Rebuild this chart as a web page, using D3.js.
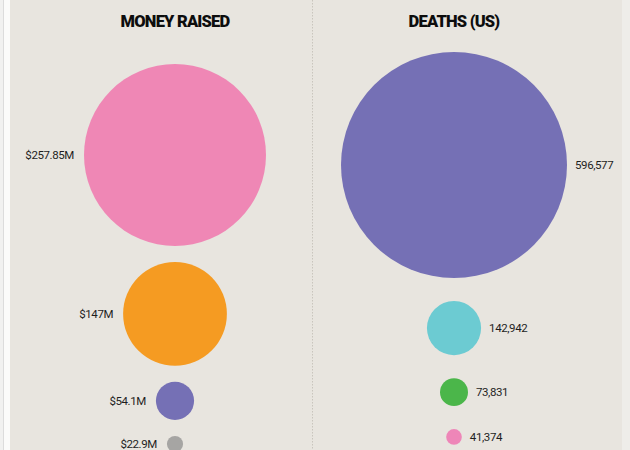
<!DOCTYPE html>
<html>
<head>
<meta charset="utf-8">
<script src="https://cdn.jsdelivr.net/npm/d3@7"></script>
<style>
  html, body { margin: 0; padding: 0; background: #f4f3f0; }
  svg { display: block; }
</style>
</head>
<body>
<svg id="chart" width="630" height="450"></svg>
<script>
// ---- data ----
const panelTitles = ["MONEY RAISED", "DEATHS (US)"];
const moneyLabels = ["$257.85M", "$147M", "$54.1M", "$22.9M"];
const moneyValues = [257.85, 147, 54.1, 22.9];
const moneyColors = ["#ef87b5", "#f59b22", "#7570b5", "#a6a5a3"];
const deathLabels = ["596,577", "142,942", "73,831", "41,374"];
const deathValues = [596577, 142942, 73831, 41374];
const deathColors = ["#7570b5", "#6ccbd2", "#4bb64a", "#ee86b8"];

const W = 630, H = 450;
const svg = d3.select("#chart");

// page frame
svg.append("rect").attr("x", 0).attr("y", 0).attr("width", W).attr("height", H).attr("fill", "#f1f1f0");
svg.append("rect").attr("x", 3).attr("y", 0).attr("width", 1).attr("height", H).attr("fill", "#dcdcdc");
svg.append("rect").attr("x", 4).attr("y", 0).attr("width", 6).attr("height", H).attr("fill", "#fbfbfa");
svg.append("rect").attr("x", 10).attr("y", 0).attr("width", 612).attr("height", H).attr("fill", "#e8e5df");
svg.append("rect").attr("x", 622).attr("y", 0).attr("width", 8).attr("height", H).attr("fill", "#eeede9");

// divider
svg.append("line").attr("x1", 312.5).attr("x2", 312.5).attr("y1", 0).attr("y2", H)
  .attr("stroke", "#c9c5bd").attr("stroke-width", 1).attr("stroke-dasharray", "1.5,1.5");

const panels = [
  { title: panelTitles[0], values: moneyValues, labels: moneyLabels, colors: moneyColors,
    cx: 175, top: 64, rMax: 91, gap: 16, labelSide: "left", labelGap: 10 },
  { title: panelTitles[1], values: deathValues, labels: deathLabels, colors: deathColors,
    cx: 454, top: 52, rMax: 113, gap: 23, labelSide: "right", labelGap: 8 }
];

panels.forEach(p => {
  const g = svg.append("g");
  g.append("text")
    .attr("x", p.cx).attr("y", 27)
    .attr("text-anchor", "middle")
    .attr("font-family", "Roboto, 'Liberation Sans', sans-serif")
    .attr("font-weight", 900)
    .attr("font-size", 16.5)
    .attr("letter-spacing", -0.8)
    .attr("fill", "#0d0d0d")
    .text(p.title);

  const r = d3.scaleLinear().domain([0, d3.max(p.values)]).range([0, p.rMax]);
  let y = p.top;
  const items = p.values.map((v, i) => {
    const rad = r(v);
    const cy = y + rad;
    y = cy + rad + p.gap;
    return { v, rad, cy, label: p.labels[i], color: p.colors[i] };
  });

  g.selectAll("circle").data(items).join("circle")
    .attr("cx", p.cx).attr("cy", d => d.cy).attr("r", d => d.rad)
    .attr("fill", d => d.color);

  g.selectAll("text.lab").data(items).join("text")
    .attr("class", "lab")
    .attr("x", d => p.labelSide === "left" ? p.cx - d.rad - p.labelGap : p.cx + d.rad + p.labelGap)
    .attr("y", d => d.cy)
    .attr("dy", "0.35em")
    .attr("text-anchor", p.labelSide === "left" ? "end" : "start")
    .attr("font-family", "'Liberation Sans Narrow', 'Roboto', sans-serif")
    .attr("font-size", 11.5)
    .attr("letter-spacing", -0.4)
    .attr("fill", "#1e1e1e")
    .text(d => d.label);
});
</script>
</body>
</html>
